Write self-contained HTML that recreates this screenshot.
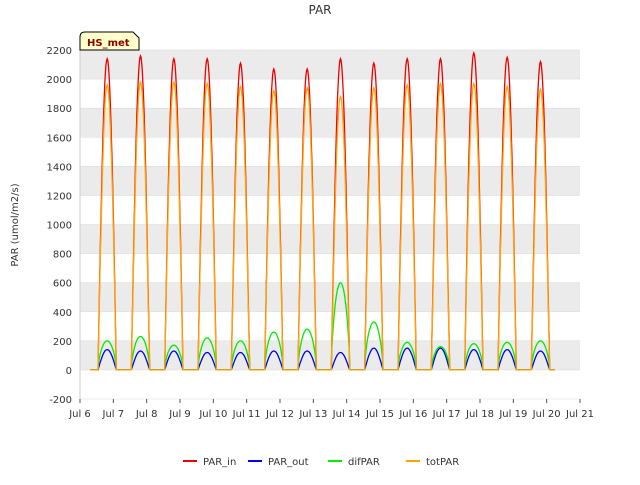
<!DOCTYPE html>
<html><head><meta charset="utf-8"><style>
body{margin:0;background:#fff;font-family:"Liberation Sans","DejaVu Sans",sans-serif;}
svg text{font-family:"DejaVu Sans","Liberation Sans",sans-serif;}
</style></head><body>
<svg id="chart" width="640" height="480">
<text x="320" y="14" text-anchor="middle" font-size="12" fill="#333">PAR</text>
<g id="grid"></g><g id="axes"></g><g id="series"></g>
<g>
<path d="M80,50 L80,37 Q80,32 85,32 L133,32 L139,38 L139,50 Z" fill="#ffffcc" stroke="#000" stroke-width="1"/>
<text x="87" y="46" font-size="10" font-weight="bold" fill="#8b0000">HS_met</text></g>
<text transform="translate(18,225) rotate(-90)" text-anchor="middle" font-size="10" fill="#333">PAR (umol/m2/s)</text>
<g id="legend"></g>
</svg>
<script>
const days=[7,8,9,10,11,12,13,14,15,16,17,18,19,20];
const parIn=[2140,2160,2140,2140,2110,2070,2070,2140,2110,2140,2140,2180,2150,2120];
const parOut=[140,130,130,120,120,130,130,120,150,150,150,140,140,130];
const difPar=[200,230,170,220,200,260,280,600,330,190,160,180,190,200];
const totPar=[1960,1980,1980,1970,1950,1920,1940,1880,1940,1960,1970,1970,1950,1930];
const yTicks=[-200,0,200,400,600,800,1000,1200,1400,1600,1800,2000,2200];
const xTicks=['Jul 6','Jul 7','Jul 8','Jul 9','Jul 10','Jul 11','Jul 12','Jul 13','Jul 14','Jul 15','Jul 16','Jul 17','Jul 18','Jul 19','Jul 20','Jul 21'];
const X0=80,X1=580,Y0=50,Y1=399;
const xs=d=>X0+(d-6)/15*(X1-X0);
const ys=v=>Y1-(v+200)/2400*(Y1-Y0);
const NS='http://www.w3.org/2000/svg';
function mk(t,a,p){const e=document.createElementNS(NS,t);for(const k in a)e.setAttribute(k,a[k]);p.appendChild(e);return e;}
const grid=document.getElementById('grid'),axes=document.getElementById('axes'),ser=document.getElementById('series'),leg=document.getElementById('legend');
mk('rect',{x:X0,y:Y0,width:X1-X0,height:Y1-Y0,fill:'#fff'},grid);
for(let i=0;i<yTicks.length-1;i++){
 if(i%2===1){const r=mk('rect',{x:X0,y:ys(yTicks[i+1]),width:X1-X0,height:ys(yTicks[i])-ys(yTicks[i+1]),fill:'#ebebeb'},grid);
 
 }
}
yTicks.forEach(v=>{mk('line',{x1:X0,x2:X1,y1:ys(v),y2:ys(v),stroke:'#dcdcdc','stroke-width':0.6},grid);
 const t=mk('text',{x:X0-8,y:ys(v)+4,'text-anchor':'end','font-size':10,fill:'#333'},axes);t.textContent=v;
 
 });
xTicks.forEach((l,i)=>{const x=xs(6+i);mk('line',{x1:x,x2:x,y1:Y1,y2:Y1+4,stroke:'#555'},axes);
 const t=mk('text',{x:x,y:Y1+18,'text-anchor':'middle','font-size':10,fill:'#333'},axes);t.textContent=l;
 
 });
mk('line',{x1:X0,x2:X0,y1:Y0,y2:Y1,stroke:'#ccc'},axes);
function build(peaks,pow){let pts=[];pts.push([6.3,0]);
 days.forEach((d,i)=>{const s=d-1+0.54,e=d-1+1.09;pts.push([s-0.01,0]);
  for(let k=0;k<=30;k++){const f=k/30;const v=peaks[i]*Math.pow(Math.sin(Math.PI*f),pow);pts.push([s+f*(e-s),v]);}
  pts.push([e+0.01,0]);});
 pts.push([20.25,0]);return pts.map(p=>xs(p[0]).toFixed(1)+','+ys(p[1]).toFixed(1)).join(' ');}
const series=[['PAR_in',parIn,'#ee0000',1.0],['PAR_out',parOut,'#0000ee',1.0],['difPAR',difPar,'#00ee00',0.6],['totPAR',totPar,'#ffa500',1.0]];
series.forEach(s=>{const p=mk('polyline',{points:build(s[1],s[3]),fill:'none',stroke:s[2],'stroke-width':1.3},ser);
 
 });
const lx=[183,248,328,406];
series.forEach((s,i)=>{const g=mk('g',{},leg);
 
 
 mk('line',{x1:lx[i],x2:lx[i]+14,y1:461,y2:461,stroke:s[2],'stroke-width':2},g);
 const t=mk('text',{x:lx[i]+20,y:465,'font-size':10,fill:'#333'},g);t.textContent=s[0];});
</script>
</body></html>
